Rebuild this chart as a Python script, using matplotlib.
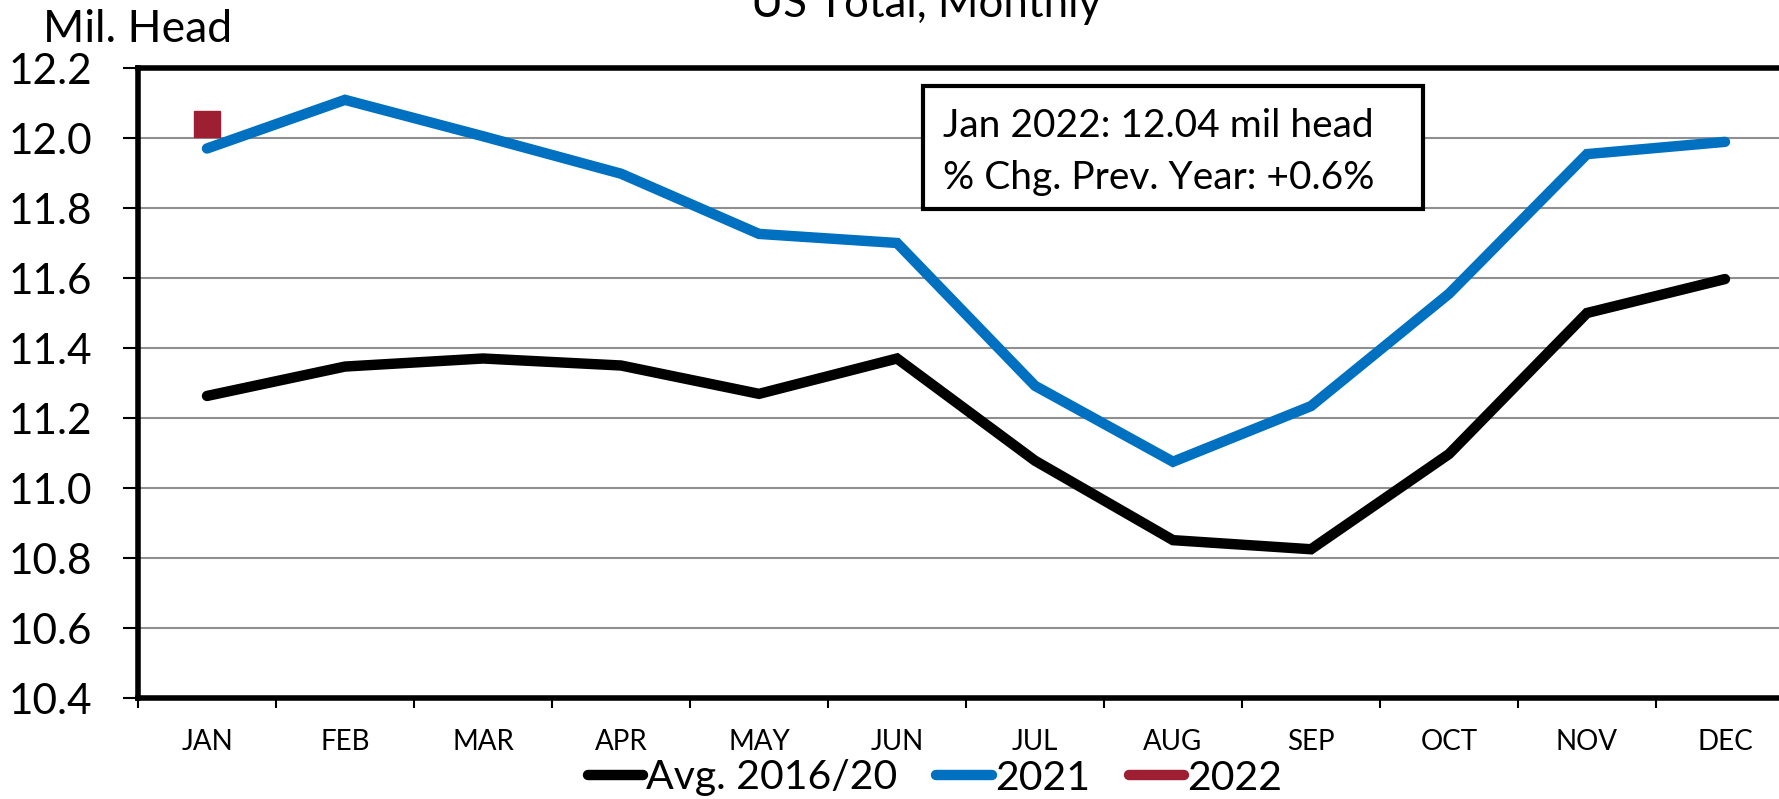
import matplotlib
matplotlib.use("Agg")
import matplotlib.pyplot as plt
from matplotlib.lines import Line2D
from matplotlib.patches import Rectangle

months = ["JAN", "FEB", "MAR", "APR", "MAY", "JUN", "JUL", "AUG", "SEP", "OCT", "NOV", "DEC"]
avg_2016_20 = [11.263, 11.347, 11.370, 11.350, 11.269, 11.370, 11.078, 10.851, 10.825, 11.097, 11.500, 11.597]
y2021 = [11.970, 12.109, 12.005, 11.898, 11.726, 11.700, 11.292, 11.075, 11.234, 11.555, 11.954, 11.989]
y2022 = [12.04]
yticks = [10.4, 10.6, 10.8, 11.0, 11.2, 11.4, 11.6, 11.8, 12.0, 12.2]

C_AVG = "#000000"
C_2021 = "#0070C0"
C_2022 = "#9E1F32"
FONT = "Lato"

plt.rcParams["font.family"] = [FONT, "DejaVu Sans"]

W, H = 1779, 799
fig = plt.figure(figsize=(W / 100, H / 100), dpi=100)
ax = fig.add_axes([138 / W, 1 - 698 / H, (1794 - 138) / W, (698 - 68) / H])

x = list(range(len(months)))
ax.plot(x, avg_2016_20, color=C_AVG, lw=7.5, solid_capstyle="round", solid_joinstyle="miter", zorder=3)
ax.plot(x, y2021, color=C_2021, lw=7.5, solid_capstyle="round", solid_joinstyle="miter", zorder=3)
ax.plot(x[:len(y2022)], y2022, color=C_2022, marker="s", ms=19, lw=0, zorder=4)

ax.set_xlim(-0.5, len(months) - 0.5)
ax.set_ylim(10.4, 12.2)
ax.set_yticks(yticks)
ax.set_yticklabels([f"{v:.1f}" for v in yticks], fontsize=30.5)
ax.yaxis.grid(True, color="#8f8f8f", lw=1.5)
ax.set_axisbelow(True)

ax.set_xticks([i - 0.5 for i in range(len(months) + 1)])
ax.set_xticklabels([])
ax.set_xticks(x, minor=True)
ax.set_xticklabels(months, minor=True, fontsize=20)
ax.tick_params(axis="x", which="major", length=7, width=1.5, direction="out")
ax.tick_params(axis="x", which="minor", length=0, pad=22)
ax.tick_params(axis="y", length=11, width=1.5, direction="out", pad=22)

for side in ["top", "left", "bottom"]:
    ax.spines[side].set_linewidth(4)
    ax.spines[side].set_color("black")
ax.spines["right"].set_visible(False)

# annotation box
fig.patches.append(Rectangle((923 / W, 1 - 209 / H), 500 / W, 123 / H, transform=fig.transFigure,
                             facecolor="white", edgecolor="black", lw=3, zorder=5))
fig.text(943 / W, 1 - 137 / H, "Jan 2022: 12.04 mil head", fontsize=28, va="baseline", ha="left", zorder=6)
fig.text(943 / W, 1 - 189 / H, "% Chg. Prev. Year: +0.6%", fontsize=28, va="baseline", ha="left", zorder=6)

# labels
fig.text(43 / W, 1 - 42 / H, "Mil. Head", fontsize=32, va="baseline", ha="left")
fig.text(926 / W, 1 - 17 / H, "US Total, Monthly", fontsize=31.5, va="baseline", ha="center")

handles = [Line2D([], [], color=C_AVG, lw=7.5, solid_capstyle="round"),
           Line2D([], [], color=C_2021, lw=7.5, solid_capstyle="round"),
           Line2D([], [], color=C_2022, lw=7.5, solid_capstyle="round")]
fig.legend(handles, ["Avg. 2016/20", "2021", "2022"], loc="center", bbox_to_anchor=(935 / W, 1 - 778 / H),
           ncol=3, frameon=False, fontsize=29.5, handlelength=1.35, handletextpad=0.08, columnspacing=0.95,
           borderaxespad=0, borderpad=0)

fig.savefig("out.png", dpi=100)
